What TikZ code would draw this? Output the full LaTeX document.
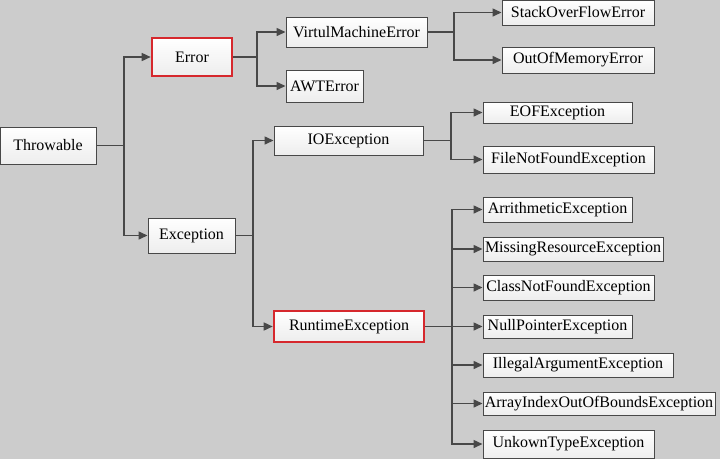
\documentclass[tikz,border=0pt]{standalone}
\usepackage{fontspec}
\setmainfont{Liberation Serif}
\usetikzlibrary{arrows.meta}
\definecolor{bggray}{RGB}{204,204,204}
\definecolor{linegray}{RGB}{72,72,72}
\definecolor{boxred}{RGB}{214,40,45}
\begin{document}
\begin{tikzpicture}
    [x=1pt, y=-1pt,
     ClsNode/.style={rectangle, draw=linegray, line width=1pt, top color=white, bottom color=black!7, inner sep=0pt, minimum height=#1, font=\fontsize{16}{19}\selectfont},
     ClsNode/.default=30pt,
     RedNode/.style={draw=boxred, line width=2.6pt},
     Conn/.style={-{Triangle[length=9pt, width=8pt]}, linegray, line width=1.5pt}]
    \fill[bggray] (0,0) rectangle (720,459);
    \useasboundingbox (0,0) rectangle (720,459);
    \node[ClsNode=37pt, minimum width=96pt] (thr) at (48,145.5){Throwable};
    \node[ClsNode=38pt, RedNode, minimum width=80pt] (err) at (192,57){Error};
    \node[ClsNode=35pt, minimum width=87pt] (exc) at (191.5,235.5){Exception};
    \node[ClsNode=30pt, minimum width=141pt] (vme) at (356.5,32){VirtulMachineError};
    \node[ClsNode=32pt, minimum width=77pt] (awt) at (324.5,86){AWTError};
    \node[ClsNode=25pt, minimum width=152pt] (sof) at (578,12.5){StackOverFlowError};
    \node[ClsNode=26pt, minimum width=152pt] (oom) at (578,60){OutOfMemoryError};
    \node[ClsNode=29pt, minimum width=149pt] (io) at (348.5,140.5){IOException};
    \node[ClsNode=21pt, minimum width=149pt] (eof) at (557.5,112.5){EOFException};
    \node[ClsNode=27pt, minimum width=171pt] (fnf) at (568.5,159.5){FileNotFoundException};
    \node[ClsNode=31pt, RedNode, minimum width=150pt] (rte) at (349,326.5){RuntimeException};
    \node[ClsNode=25pt, minimum width=149pt] (ari) at (557.5,209.5){ArrithmeticException};
    \node[ClsNode=24pt, minimum width=180pt] (mis) at (573,249){MissingResourceException};
    \node[ClsNode=25pt, minimum width=171pt] (cnf) at (568.5,287.5){ClassNotFoundException};
    \node[ClsNode=23pt, minimum width=149pt] (npe) at (557.5,326.5){NullPointerException};
    \node[ClsNode=24pt, minimum width=190pt] (iae) at (578,365){IllegalArgumentException};
    \node[ClsNode=23pt, minimum width=232pt] (aio) at (599,403.5){ArrayIndexOutOfBoundsException};
    \node[ClsNode=28pt, minimum width=171pt] (ukt) at (568.5,444){UnkownTypeException};
    % junctions
    \coordinate (jthr) at (124,145.5);
    \coordinate (jerr) at (257,57);
    \coordinate (jvme) at (454,32);
    \coordinate (jexc) at (253,235.5);
    \coordinate (jio) at (451,140.5);
    \coordinate (jrte) at (452,326.5);
    \draw[Conn] (thr.east) -- (jthr) |- (err.west);
    \draw[Conn] (jthr) |- (exc.west);
    \draw[Conn] (err.east) -- (jerr) |- (vme.west);
    \draw[Conn] (jerr) |- (awt.west);
    \draw[Conn] (vme.east) -- (jvme) |- (sof.west);
    \draw[Conn] (jvme) |- (oom.west);
    \draw[Conn] (exc.east) -- (jexc) |- (io.west);
    \draw[Conn] (jexc) |- (rte.west);
    \draw[Conn] (io.east) -- (jio) |- (eof.west);
    \draw[Conn] (jio) |- (fnf.west);
    \draw[Conn] (rte.east) -- (jrte) -- (npe.west);
    \foreach \n in {ari, mis, cnf, iae, aio, ukt}
        \draw[Conn] (jrte) |- (\n.west);
\end{tikzpicture}
\end{document}
